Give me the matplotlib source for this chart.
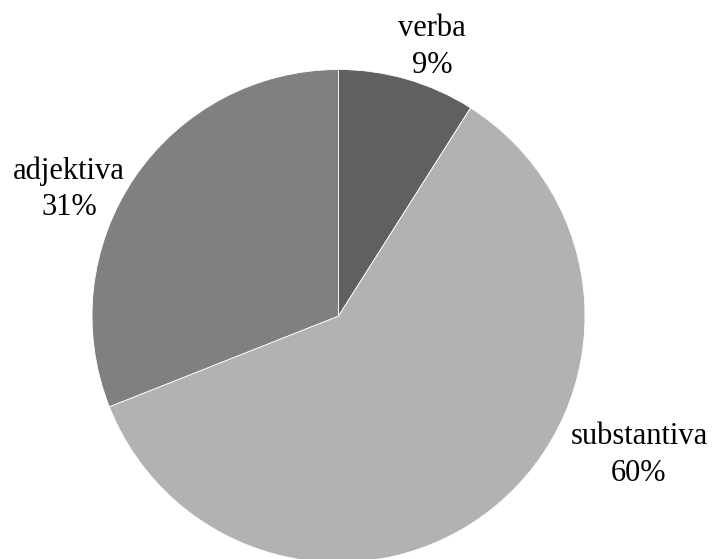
import matplotlib.pyplot as plt

categories = ['verba', 'substantiva', 'adjektiva']
shares = [9, 60, 31]
colors = ['#606060', '#b2b2b2', '#808080']

# label anchor points (figure pixels from top-left) for each slice
label_px = [(432, 47), (639, 455), (69, 189)]

W, H = 714, 559
cx, cy, r = 338.5, 316, 246.5

plt.rcParams['font.family'] = ['Liberation Serif', 'DejaVu Serif']

fig = plt.figure(figsize=(W / 100, H / 100), dpi=100)
ax = fig.add_axes([0, 0, 1, 1])
ax.pie(shares, colors=colors, startangle=90, counterclock=False, radius=1,
       wedgeprops=dict(edgecolor='white', linewidth=0.6))
ax.set_xlim(-cx / r, (W - cx) / r)
ax.set_ylim(-(H - cy) / r, cy / r)
ax.set_aspect('equal')
ax.axis('off')

for name, val, (px, py) in zip(categories, shares, label_px):
    fig.text(px / W, 1 - py / H, f'{name}\n{val}%', ha='center', va='center',
             fontsize=22, linespacing=1.32)

fig.savefig('out.png', dpi=100)
